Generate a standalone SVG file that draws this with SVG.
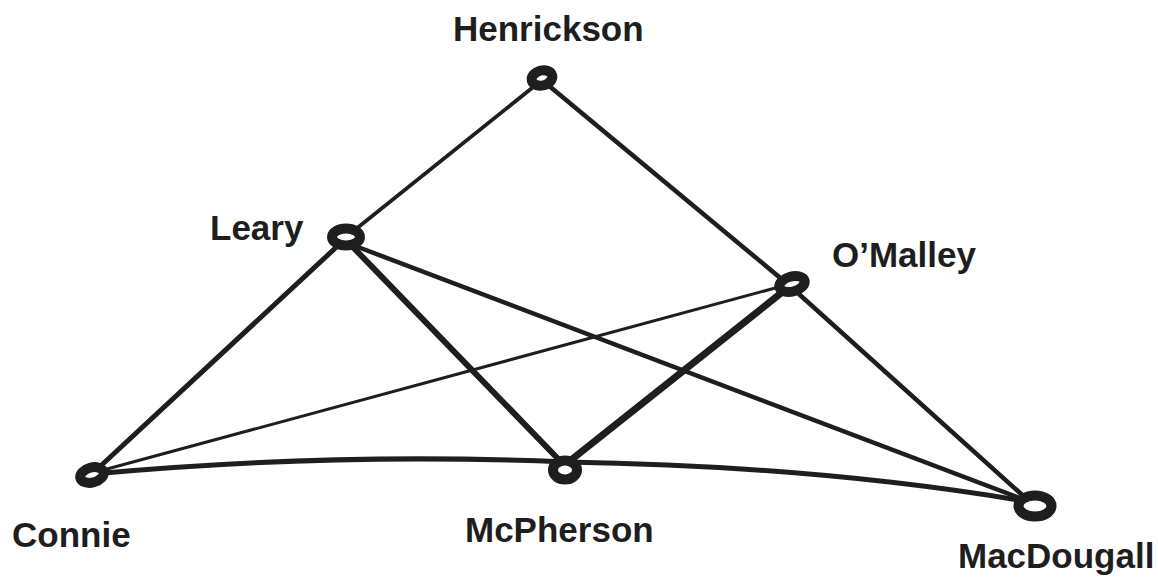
<svg xmlns="http://www.w3.org/2000/svg" width="1158" height="579" viewBox="0 0 1158 579">
<style>
.lbl{font-family:"Liberation Sans",Arial,sans-serif;font-weight:bold;font-size:35px;fill:#1e1e1e}
.n{fill:#ffffff;stroke:#1e1e1e;stroke-width:10}
.e{fill:none;stroke:#1e1e1e;stroke-linecap:round}
</style>
<rect width="1158" height="579" fill="#ffffff"/>
<g id="connectors">
<line class="e" x1="542" y1="80" x2="346" y2="237" stroke-width="3.8"/>
<line class="e" x1="542" y1="80" x2="790" y2="286" stroke-width="4.5"/>
<line class="e" x1="790" y1="286" x2="1030" y2="502" stroke-width="4.5"/>
<line class="e" x1="344" y1="240" x2="92" y2="474" stroke-width="5"/>
<line class="e" x1="348" y1="242" x2="565" y2="466" stroke-width="6"/>
<line class="e" x1="350" y1="244" x2="1030" y2="502" stroke-width="4.5"/>
<line class="e" x1="790" y1="284" x2="96" y2="472" stroke-width="3"/>
<line class="e" x1="790" y1="286" x2="566" y2="464" stroke-width="7"/>
<path class="e" d="M92,474 Q330,452 566,462" stroke-width="5"/>
<path class="e" d="M566,462 Q820,466 1030,502" stroke-width="5"/>
</g>
<g id="node-henrickson"><ellipse class="n" cx="542" cy="78" rx="10.5" ry="7.5" transform="rotate(-15 542 78)"/><text class="lbl" x="453" y="41">Henrickson</text></g>
<g id="node-leary"><ellipse class="n" cx="346" cy="237" rx="14" ry="8.5"/><text class="lbl" x="210" y="240">Leary</text></g>
<g id="node-omalley"><ellipse class="n" cx="792" cy="284" rx="13" ry="7.5" transform="rotate(-15 792 284)"/><text class="lbl" x="832" y="267">O’Malley</text></g>
<g id="node-connie"><ellipse class="n" cx="92" cy="475" rx="12" ry="7.5" transform="rotate(-15 92 475)"/><text class="lbl" x="12" y="547">Connie</text></g>
<g id="node-mcpherson"><ellipse class="n" cx="565" cy="470" rx="12" ry="9.5"/><text class="lbl" x="465" y="542">McPherson</text></g>
<g id="node-macdougall"><ellipse class="n" cx="1035" cy="506" rx="16.5" ry="10.5"/><text class="lbl" x="958" y="568">MacDougall</text></g>
</svg>
